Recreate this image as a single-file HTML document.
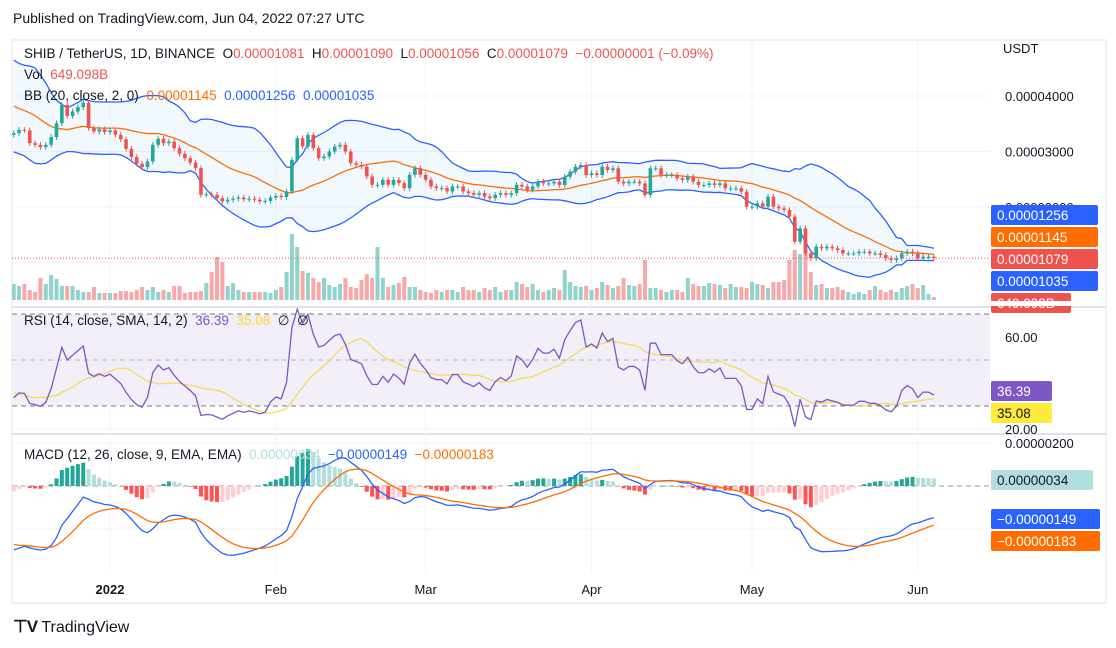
<!DOCTYPE html>
<html><head><meta charset="utf-8">
<style>
html,body{margin:0;padding:0;background:#fff;}
body{width:1116px;height:648px;overflow:hidden;position:relative;font-family:"Liberation Sans",sans-serif;}
.t{position:absolute;white-space:nowrap;}
</style></head>
<body>
<div class="t" style="left:13px;top:10px;font-size:14px;color:#131722;">Published on TradingView.com, Jun 04, 2022 07:27 UTC</div>
<svg id="chart" width="1116" height="648" style="position:absolute;left:0;top:0" xmlns="http://www.w3.org/2000/svg"></svg>
<div class="t" style="left:24px;top:46px;font-size:13.5px;color:#131722;">SHIB / TetherUS, 1D, BINANCE&nbsp; O<span style="color:#ef5350">0.00001081</span>&nbsp; H<span style="color:#ef5350">0.00001090</span>&nbsp; L<span style="color:#ef5350">0.00001056</span>&nbsp; C<span style="color:#ef5350">0.00001079&nbsp; −0.00000001 (−0.09%)</span></div>
<div class="t" style="left:24px;top:67px;font-size:13.5px;color:#131722;">Vol&nbsp; <span style="color:#ef5350">649.098B</span></div>
<div class="t" style="left:24px;top:88px;font-size:13.5px;color:#131722;">BB (20, close, 2, 0)&nbsp; <span style="color:#ff6d00">0.00001145</span>&nbsp; <span style="color:#2962ff">0.00001256</span>&nbsp; <span style="color:#2962ff">0.00001035</span></div>
<div class="t" style="left:24px;top:313px;font-size:13.5px;color:#131722;">RSI (14, close, SMA, 14, 2)&nbsp; <span style="color:#7e57c2">36.39</span>&nbsp; <span style="color:#fdd835">35.08</span>&nbsp; ∅&nbsp; ∅</div>
<div class="t" style="left:24px;top:447px;font-size:13.5px;color:#131722;">MACD (12, 26, close, 9, EMA, EMA)&nbsp; <span style="color:#b2dfdb">0.00000034</span>&nbsp; <span style="color:#2962ff">−0.00000149</span>&nbsp; <span style="color:#ff6d00">−0.00000183</span></div>
<div class="t" style="left:1003px;top:41px;font-size:13px;color:#131722;">USDT</div>
<div class="t" style="left:13px;top:617px;font-size:16px;color:#131722;"><b style="font-size:17px;letter-spacing:-1px">⊤V</b> TradingView</div>
<script>
// price data in units of 1e-8 USDT
const preCloses=[5200,5100,5300,5000,4800,4700,4900,4600,4500,4700,4400,4300,4400,4200,4300,4100,4200,4300,4100,4000,4200,4300,4100,4000,4100,4500,4400,4400,4200,4100,3900,3300,3400,3500,3700,3600,3500,3400,3350,3300];
const closes=[
3330,3390,3380,3150,3120,3080,3120,3260,3510,3840,3640,3720,3800,3880,3420,3360,3400,3350,
3380,3300,3220,3050,2900,2780,2720,2820,3120,3230,3150,3180,3060,2960,2880,2800,2700,2220,2230,2220,2160,2100,2130,2150,2170,2140,2150,2130,2100,2110,2170,
2200,2180,2280,2850,3240,3090,3300,3060,2880,2910,3000,3090,3120,3000,2790,2760,2730,2550,2400,2400,2490,2400,2490,2430,2340,2580,2700,2580,
2490,2370,2340,2340,2280,2370,2370,2280,2250,2220,2250,2190,2160,2220,2250,2220,2250,2400,2370,2310,2370,2460,
2426,2426,2456,2396,2546,2636,2727,2757,2576,2606,2576,2727,2666,2697,2456,2426,2456,2456,2426,2216,2697,2697,2576,2576,2576,2516,2486,2546,2456,2396,2396,2426,2396,2426,2336,2336,2336,2276,2006,2006,2066,2006,2186,2006,1976,1946,1826,1375,1616,1165,1075,1285,1255,1285,1255,1225,1165,1165,1165,1195,1195,1165,1165,1135,1075,1045,1075,1165,1195,1165,1075,1105,1105,1079];
const volumes=[
16,14,16,10,8,22,16,25,21,14,14,14,10,8,8,13,7,7,
7,7,9,9,8,10,13,10,13,8,10,8,14,14,7,8,8,9,17,28,43,38,14,17,10,8,8,8,8,8,7,
10,13,28,66,53,29,27,22,18,22,15,13,16,22,13,12,20,26,22,53,22,13,15,17,23,13,13,10,
8,7,10,8,10,10,8,13,10,10,8,12,10,13,8,10,10,18,16,13,16,10,
8,10,12,10,30,18,14,13,14,10,12,18,15,12,14,22,15,14,16,40,12,12,10,8,10,10,8,22,16,14,14,17,16,15,12,16,13,13,12,18,
16,15,12,18,18,20,40,50,46,60,28,15,16,12,12,13,10,8,6,8,6,10,14,10,8,10,8,12,14,16,12,15,6,3];
const monthLabels=["2022","Feb","Mar","Apr","May","Jun"];
const monthDayIndex=[18,49,77,108,138,169];
const priceTicks=[4000,3000,2000];
const rsiTicks=[60,20];

const svg=document.getElementById('chart');
const NS='http://www.w3.org/2000/svg';
function mk(tag,at,parent){const e=document.createElementNS(NS,tag);for(const k in at)e.setAttribute(k,at[k]);(parent||svg).appendChild(e);return e;}
const xOf=i=>110+(i-18)*5.35;
const yP=p=>96+(4000-p)*0.0555;
const yV=v=>300-v;
const yR=r=>360-(r-50)*2.3;
const yM=m=>486-m*0.215;

// indicators
const all=preCloses.concat(closes), P=preCloses.length;
function ema(arr,n){const k=2/(n+1);let out=[],e=arr[0];for(let i=0;i<arr.length;i++){e=i?arr[i]*k+e*(1-k):arr[0];out.push(e);}return out;}
const bbMid=[],bbUp=[],bbLo=[];
for(let i=P;i<all.length;i++){const w=all.slice(i-19,i+1);const m=w.reduce((a,b)=>a+b,0)/20;const sd=Math.sqrt(w.reduce((a,b)=>a+(b-m)*(b-m),0)/20);bbMid.push(m);bbUp.push(m+2*sd);bbLo.push(m-2*sd);}
let ag=0,al=0;const rsiAll=[];
for(let i=1;i<all.length;i++){const d=all[i]-all[i-1];const g=Math.max(d,0),l=Math.max(-d,0);if(i<=14){ag+=g/14;al+=l/14;}else{ag=(ag*13+g)/14;al=(al*13+l)/14;}rsiAll.push(al===0?100:100-100/(1+ag/al));}
rsiAll.unshift(50);
const rsi=rsiAll.slice(P);
const rsiSma=[];for(let i=P;i<all.length;i++){let s=0;for(let j=i-13;j<=i;j++)s+=rsiAll[j];rsiSma.push(s/14);}
const e12=ema(all,12),e26=ema(all,26);const macdAll=e12.map((v,i)=>v-e26[i]);const sigAll=ema(macdAll,9);
const macd=macdAll.slice(P),sig=sigAll.slice(P);

// frame & grids
mk('rect',{x:12,y:40,width:1094,height:563,fill:'none',stroke:'#e0e3eb'});
mk('line',{x1:12,y1:307,x2:1106,y2:307,stroke:'#e0e3eb','stroke-width':2});
mk('line',{x1:12,y1:434,x2:1106,y2:434,stroke:'#e0e3eb','stroke-width':2});
monthDayIndex.forEach((d,k)=>{const x=xOf(d);
 mk('line',{x1:x,y1:40,x2:x,y2:572,stroke:'#f0f3fa'});
 const t=mk('text',{x:x,y:594,'text-anchor':'middle','font-size':13,fill:'#131722','font-weight':k===0?'bold':'normal'});t.textContent=monthLabels[k];
 
 
});
priceTicks.forEach(p=>{mk('line',{x1:12,y1:yP(p),x2:990,y2:yP(p),stroke:'#f0f3fa'});const t=mk('text',{x:1005,y:yP(p)+5,'font-size':13,fill:'#131722'});t.textContent=(p/1e8).toFixed(8);
 
 });
mk('line',{x1:12,y1:yP(1000),x2:990,y2:yP(1000),stroke:'#f0f3fa'});

// main pane clip
const cp=mk('clipPath',{id:'mainclip'});mk('rect',{x:12,y:41,width:978,height:261},cp);
const g=mk('g',{'clip-path':'url(#mainclip)'});
// volume
closes.forEach((c,i)=>{const o=i?closes[i-1]:preCloses[P-1];const v=volumes[i]||5;const r=mk('rect',{x:xOf(i)-2,y:yV(v),width:4,height:v,fill:c>=o?'#92d2cc':'#f7a9a7'},g);
 
 });
// BB
const ptsU=bbUp.map((v,i)=>xOf(i)+','+yP(v)), ptsL=bbLo.map((v,i)=>xOf(i)+','+yP(v));
mk('polygon',{points:ptsU.concat(ptsL.slice().reverse()).join(' '),fill:'rgba(33,150,243,0.06)'},g);
const bu=mk('polyline',{points:ptsU.join(' '),fill:'none',stroke:'#2962ff','stroke-width':1.3},g);


const bl=mk('polyline',{points:ptsL.join(' '),fill:'none',stroke:'#2962ff','stroke-width':1.3},g);


const bm=mk('polyline',{points:bbMid.map((v,i)=>xOf(i)+','+yP(v)).join(' '),fill:'none',stroke:'#ff6d00','stroke-width':1.3},g);


// candles
closes.forEach((c,i)=>{const o=i?closes[i-1]:preCloses[P-1];const up=c>=o;const col=up?'#26a69a':'#ef5350';
 const hi=Math.max(o,c)+50,lo=Math.min(o,c)-50;const x=xOf(i);
 mk('line',{x1:x,y1:yP(hi),x2:x,y2:yP(lo),stroke:col},g);
 const r=mk('rect',{x:x-1.8,y:yP(Math.max(o,c)),width:3.6,height:Math.max(1,Math.abs(yP(o)-yP(c))),fill:col},g);
 
 });
const last=closes[closes.length-1];
mk('line',{x1:12,y1:yP(last),x2:990,y2:yP(last),stroke:'#ef5350','stroke-dasharray':'1 2'});

// RSI pane
mk('rect',{x:12,y:yR(70),width:978,height:yR(30)-yR(70),fill:'#f2eff9'});
[70,50,30].forEach(v=>mk('line',{x1:12,y1:yR(v),x2:990,y2:yR(v),stroke:v===50?'#b2b5be':'#787b86','stroke-dasharray':'5 4'}));
rsiTicks.forEach(v=>{mk('line',{x1:12,y1:yR(v),x2:990,y2:yR(v),stroke:'#f0f3fa'});const t=mk('text',{x:1005,y:yR(v)+5,'font-size':13,fill:'#131722'});t.textContent=v.toFixed(2);
 
 });
const rs=mk('polyline',{points:rsiSma.map((v,i)=>xOf(i)+','+yR(v)).join(' '),fill:'none',stroke:'#f5d94e','stroke-width':1.2});


const rl=mk('polyline',{points:rsi.map((v,i)=>xOf(i)+','+yR(v)).join(' '),fill:'none',stroke:'#7e57c2','stroke-width':1.3});



// MACD pane
[200,-200].forEach(v=>mk('line',{x1:12,y1:yM(v),x2:990,y2:yM(v),stroke:'#f0f3fa'}));
mk('line',{x1:12,y1:yM(0),x2:990,y2:yM(0),stroke:'#9598a1','stroke-dasharray':'5 4'});
const tm=mk('text',{x:1005,y:yM(200)+5,'font-size':13,fill:'#131722'});tm.textContent='0.00000200';
macd.forEach((m,i)=>{const h=m-sig[i];const ph=i?macd[i-1]-sig[i-1]:h;
 const col=h>=0?(h>=ph?'#26a69a':'#b2dfdb'):(h<ph?'#ff5252':'#ffcdd2');
 const r=mk('rect',{x:xOf(i)-2,y:Math.min(yM(0),yM(h)),width:4,height:Math.max(0.5,Math.abs(yM(h)-yM(0))),fill:col});
 
 });
const ml=mk('polyline',{points:macd.map((v,i)=>xOf(i)+','+yM(v)).join(' '),fill:'none',stroke:'#2962ff','stroke-width':1.3});


const sl=mk('polyline',{points:sig.map((v,i)=>xOf(i)+','+yM(v)).join(' '),fill:'none',stroke:'#ff6d00','stroke-width':1.3});



// right axis value tags
function tag(y,w,bg,fg,txt,name){const r=mk('rect',{x:991,y:y,width:w,height:20,rx:2,fill:bg});const t=mk('text',{x:997,y:y+15,'font-size':13.5,fill:fg});t.textContent=txt;
 
 }
tag(205,107,'#2962ff','#fff','0.00001256','bb-upper-tag');
tag(227,107,'#ff6d00','#fff','0.00001145','bb-basis-tag');
tag(249,107,'#ef5350','#fff','0.00001079','last-price-tag');
tag(271,107,'#2962ff','#fff','0.00001035','bb-lower-tag');
tag(293,80,'#ef5350','#fff','649.098B','volume-tag');
tag(381,61,'#7e57c2','#fff','36.39','rsi-tag');
tag(403,61,'#ffeb3b','#131722','35.08','rsi-sma-tag');
tag(470,102,'#b2dfdb','#131722','0.00000034','macd-hist-tag');
tag(509,109,'#2962ff','#fff','−0.00000149','macd-tag');
tag(531,109,'#ff6d00','#fff','−0.00000183','signal-tag');
// cover overflow of volume tag
mk('rect',{x:990,y:301,width:115,height:5,fill:'#fff'});
</script>
</body></html>
